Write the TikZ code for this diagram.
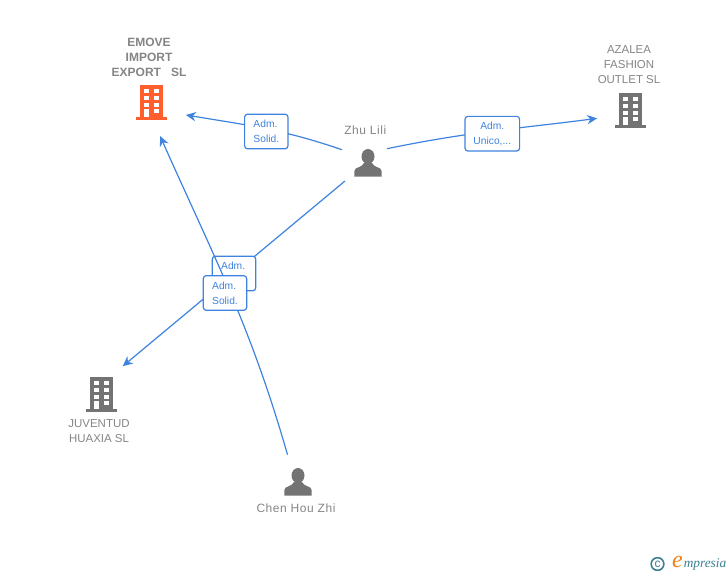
\documentclass[tikz,border=0pt]{standalone}
\usepackage{fontspec}
\setmainfont{Liberation Sans}
\newfontfamily\logofont{Liberation Serif}
\usetikzlibrary{arrows.meta}
\usetikzlibrary{positioning}
\definecolor{linkblue}{HTML}{3F83E0}
\definecolor{textgray}{HTML}{858585}
\definecolor{icongray}{HTML}{737373}
\definecolor{iconorange}{HTML}{FF5F2E}
\definecolor{logoteal}{HTML}{3C7F93}
\definecolor{logoorange}{HTML}{F08019}

\newcommand{\buildingicon}[1]{
 \begin{scope}[shift={(path picture bounding box.center)}]
  \fill[#1] (-11.5,-17) rectangle (11.5,15);
  \fill[#1] (-15.5,15) rectangle (15.5,17.5);
  \foreach \ya in {-13,-6.5,0.5}{
   \fill[white] (-7,\ya) rectangle (-2,\ya+4);
   \fill[white] (2.5,\ya) rectangle (7.5,\ya+4);
  }
  \fill[white] (-7,7) rectangle (-2,15);
  \fill[white] (2.5,7) rectangle (7.5,11);
 \end{scope}
}
\newcommand{\personicon}{
 \begin{scope}[shift={(path picture bounding box.center)}]
  \fill[icongray] (-13.7,13.7) -- (-13.7,8) .. controls (-13,3.5) and (-6,5) .. (-4,0)
   -- (4,0) .. controls (6,5) and (13,3.5) .. (13.7,8) -- (13.7,13.7) -- cycle;
  \fill[icongray] (0,-6.5) ellipse (6.5 and 7.5);
 \end{scope}
}

\tikzset{
    building/.style={
           circle,
           inner sep=0pt,
           minimum size=52.5pt,
           path picture={\buildingicon{#1}},
           },
    person/.style={
           circle,
           inner sep=0pt,
           minimum size=43.5pt,
           path picture={\personicon},
           },
    caption/.style={
           text=textgray,
           align=center,
           inner sep=0pt,
           font=\fontsize{8.6}{11.25}\selectfont,
           },
    namecaption/.style={
           caption,
           font=\fontsize{9}{11.25}\selectfont\addfontfeature{LetterSpace=4.5},
           },
    badge/.style={
           rectangle,
           rounded corners=2.2pt,
           draw=linkblue, line width=0.9pt,
           fill=white,
           text=linkblue,
           align=left,
           inner sep=0pt,
           minimum width=32.5pt,
           minimum height=26pt,
           font=\fontsize{7.7}{11.25}\selectfont,
           execute at begin node={\rule{0pt}{7.5pt}},
           },
    link/.style={
           draw=linkblue,
           line width=0.9pt,
           },
}

\begin{document}
\begin{tikzpicture}[x=0.75pt,y=-0.75pt,->,>={Stealth[length=7.5pt,width=7pt]}]
 \useasboundingbox (0,0) rectangle (728,575);

 % the companies and the people
 \node[building=iconorange] (Emove) at (151,102) {};
 \node[building=icongray] (Azalea) at (630,110) {};
 \node[building=icongray] (Juventud) at (101,394) {};
 \node[person] (Zhu) at (368,163) {};
 \node[person] (Chen) at (298,482) {};

 % captions
 \node[caption,
  above of=Emove,
  node distance=33.75pt,
  xshift=-1.5pt,
  font=\fontsize{9}{11.25}\selectfont\bfseries] (Emove Text)
 {EMOVE\\IMPORT\\EXPORT\ \ \ SL};

 \node[caption,
  above of=Azalea,
  node distance=33.75pt,
  xshift=-0.75pt] (Azalea Text)
 {AZALEA\\FASHION\\OUTLET SL};

 \node[caption,
  below of=Juventud,
  node distance=27.75pt,
  xshift=-1.5pt] (Juventud Text)
 {JUVENTUD\\HUAXIA SL};

 \node[namecaption,
  above of=Zhu,
  node distance=24.5pt,
  xshift=-2pt] (Zhu Text)
 {Zhu Lili};

 \node[namecaption,
  below of=Chen,
  node distance=19.5pt,
  xshift=-1.5pt] (Chen Text)
 {Chen Hou Zhi};

 % paths
 \draw[link,shorten >=1.5pt](Zhu.153) to[out=161,in=-9.5] (Emove.-21);
 \draw[link,shorten <=-4.5pt,shorten >=-1pt](Zhu.32) to[out=11.6,in=187.4] (Azalea.194);
 \draw[link](Zhu.218) -- (Juventud.52);

 % labels of the paths
 \node[badge] (Badge Emove) at (266.3,131.5) {Adm.\\Solid.};
 \node[badge,minimum width=41pt,align=center] (Badge Azalea) at (492.3,133.7) {Adm.\\Unico,...};
 \node[badge] (Badge Juventud) at (234,273.5) {Adm.\\\phantom{Solid.}};

 \draw[link](Chen.111) to[out=106,in=-66] (Emove.-75);

 \node[badge] (Badge Chen) at (225,293) {Adm.\\Solid.};

 % logo
 \node[circle,draw=logoteal,line width=1.2pt,text=logoteal,inner sep=0pt,
  minimum size=9.5pt,font=\fontsize{9}{9}\selectfont] (Logo C) at (657.5,564) {c};
 \node[text=logoorange,inner sep=0pt,font=\logofont\itshape\fontsize{18}{18}\selectfont]
  (Logo E) at (677.5,562) {e};
 \node[text=logoteal,inner sep=0pt,font=\logofont\itshape\fontsize{10}{10}\selectfont]
  (Logo Text) at (705,564.5) {mpresia};
\end{tikzpicture}
\end{document}
